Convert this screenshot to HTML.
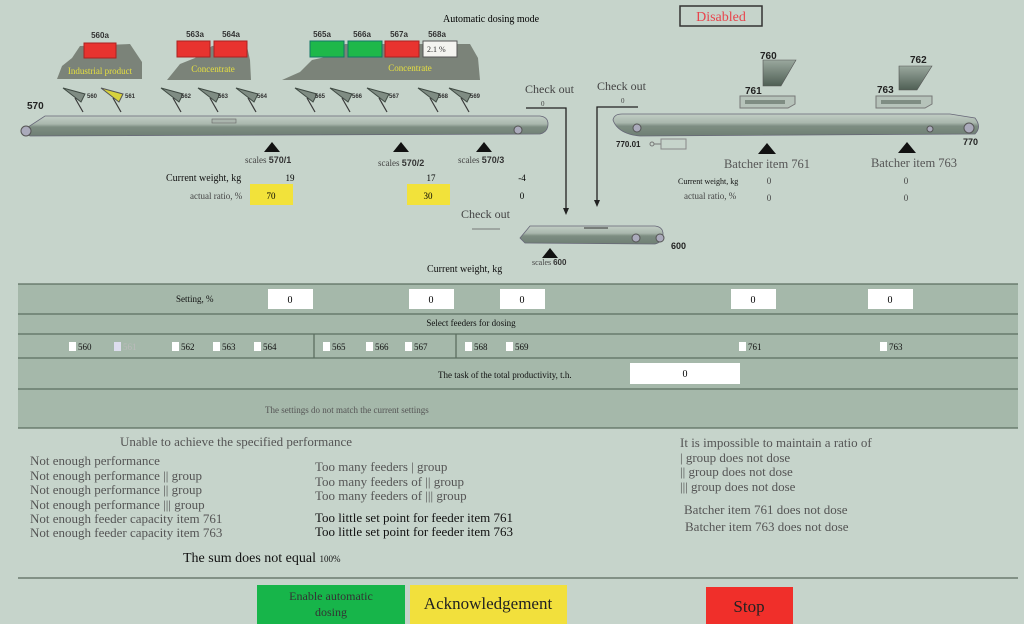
<!DOCTYPE html>
<html><head><meta charset="utf-8"><style>
html,body{margin:0;padding:0;background:#c6d4cb;}
svg{display:block;font-family:"Liberation Serif",serif;}
.s{font-family:"Liberation Sans",sans-serif;font-weight:bold;}
</style></head><body>
<svg width="1024" height="624" viewBox="0 0 1024 624">
<rect width="1024" height="624" fill="#c6d4cb"/>
<defs>
<linearGradient id="belt" x1="0" y1="0" x2="0" y2="1"><stop offset="0" stop-color="#c2cec5"/><stop offset="0.4" stop-color="#a9b7ad"/><stop offset="0.55" stop-color="#7d8d82"/><stop offset="1" stop-color="#6f7f74"/></linearGradient>
<linearGradient id="hop" x1="0" y1="0" x2="0" y2="1"><stop offset="0" stop-color="#9aa89e"/><stop offset="1" stop-color="#4f5f54"/></linearGradient>
<g id="feed"><path d="M0,0 l22,6 l-4,8 z" fill="#7f8c83" stroke="#3f4a43" stroke-width="1"/><line x1="12" y1="10" x2="20" y2="24" stroke="#3a3a3a" stroke-width="1.2"/></g>
</defs>
<text x="443" y="22" font-size="10">Automatic dosing mode</text>
<rect x="680" y="6" width="82" height="20" fill="none" stroke="#333" stroke-width="1.5"/>
<text x="721" y="21" font-size="14" fill="#e8444c" text-anchor="middle">Disabled</text>

<path d="M57,79 L62,66 L72,58 L80,46 L130,44 L142,62 L142,79 Z" fill="#7b8379"/>
<rect x="84" y="43" width="32" height="15" fill="#e8332f" stroke="#a22" />
<text x="100" y="38" font-size="8" class="s" text-anchor="middle" fill="#333">560a</text>
<text x="100" y="74" font-size="9" fill="#e6e040" text-anchor="middle">Industrial product</text>
<path d="M167,80 L180,64 L195,58 L212,46 L246,42 L250,60 L251,80 Z" fill="#7b8379"/>
<rect x="177" y="41" width="33" height="16" fill="#e8332f" stroke="#a22"/>
<rect x="214" y="41" width="33" height="16" fill="#e8332f" stroke="#a22"/>
<text x="195" y="37" font-size="8" class="s" text-anchor="middle" fill="#333">563a</text>
<text x="231" y="37" font-size="8" class="s" text-anchor="middle" fill="#333">564a</text>
<text x="213" y="72" font-size="9" fill="#e6e040" text-anchor="middle">Concentrate</text>
<path d="M282,80 L300,72 L312,60 L330,56 L345,44 L470,44 L478,58 L480,80 Z" fill="#7b8379"/>
<rect x="310" y="41" width="34" height="16" fill="#1eb84a" stroke="#176"/>
<rect x="348" y="41" width="34" height="16" fill="#1eb84a" stroke="#176"/>
<rect x="385" y="41" width="34" height="16" fill="#e8332f" stroke="#a22"/>
<rect x="423" y="41" width="34" height="16" fill="#f4f4f0" stroke="#555"/>
<text x="427" y="52" font-size="8" fill="#333">2.1 %</text>
<text x="322" y="37" font-size="8" class="s" text-anchor="middle" fill="#333">565a</text>
<text x="362" y="37" font-size="8" class="s" text-anchor="middle" fill="#333">566a</text>
<text x="399" y="37" font-size="8" class="s" text-anchor="middle" fill="#333">567a</text>
<text x="437" y="37" font-size="8" class="s" text-anchor="middle" fill="#333">568a</text>
<text x="410" y="71" font-size="9" fill="#e6e040" text-anchor="middle">Concentrate</text>

<g font-size="6" class="s" fill="#333">
<use href="#feed" x="63" y="88"/><text x="87" y="98">560</text>
<g transform="translate(101,88)"><path d="M0,0 l22,6 l-4,8 z" fill="#d8d23c" stroke="#555"/><line x1="12" y1="10" x2="20" y2="24" stroke="#3a3a3a" stroke-width="1.2"/></g><text x="125" y="98">561</text>
<use href="#feed" x="161" y="88"/><text x="181" y="98">562</text>
<use href="#feed" x="198" y="88"/><text x="218" y="98">563</text>
<use href="#feed" x="236" y="88"/><text x="257" y="98">564</text>
<use href="#feed" x="295" y="88"/><text x="315" y="98">565</text>
<use href="#feed" x="330" y="88"/><text x="352" y="98">566</text>
<use href="#feed" x="367" y="88"/><text x="389" y="98">567</text>
<use href="#feed" x="418" y="88"/><text x="438" y="98">568</text>
<use href="#feed" x="449" y="88"/><text x="470" y="98">569</text>
</g>
<text x="27" y="109" font-size="10" class="s" fill="#222">570</text>
<path d="M22,131 L45,116 L540,116 Q548,117 548,124 Q548,132 540,134 L30,136 Z" fill="url(#belt)" stroke="#667" stroke-width="0.8"/>
<circle cx="26" cy="131" r="5" fill="#aab" stroke="#555"/><circle cx="518" cy="130" r="4" fill="#aab" stroke="#555"/>
<rect x="212" y="119" width="24" height="4" fill="#aab5ad" stroke="#666" stroke-width="0.6"/>
<path d="M272,142 l-8,10 h16 z" fill="#111"/><path d="M401,142 l-8,10 h16 z" fill="#111"/><path d="M484,142 l-8,10 h16 z" fill="#111"/>
<text x="245" y="163" font-size="9" fill="#444">scales <tspan class="s" fill="#333">570/1</tspan></text>
<text x="378" y="166" font-size="9" fill="#444">scales <tspan class="s" fill="#333">570/2</tspan></text>
<text x="458" y="163" font-size="9" fill="#444">scales <tspan class="s" fill="#333">570/3</tspan></text>
<text x="166" y="181" font-size="10" fill="#111">Current weight, kg</text>
<text x="290" y="181" font-size="9" text-anchor="middle">19</text>
<text x="431" y="181" font-size="9" text-anchor="middle">17</text>
<text x="522" y="181" font-size="9" text-anchor="middle">-4</text>
<text x="190" y="199" font-size="9" fill="#444">actual ratio, %</text>
<rect x="250" y="184" width="43" height="21" fill="#f2e23a"/>
<rect x="407" y="184" width="43" height="21" fill="#f2e23a"/>
<text x="271" y="199" font-size="9" text-anchor="middle">70</text>
<text x="428" y="199" font-size="9" text-anchor="middle">30</text>
<text x="522" y="199" font-size="9" text-anchor="middle">0</text>

<text x="525" y="93" font-size="12" fill="#444">Check out</text>
<text x="541" y="106" font-size="7" fill="#444">0</text>
<polyline points="526,108 566,108 566,212" fill="none" stroke="#222" stroke-width="1.3"/>
<path d="M566,215 l-3,-7 h6 z" fill="#222"/>
<text x="597" y="90" font-size="12" fill="#444">Check out</text>
<text x="621" y="103" font-size="7" fill="#444">0</text>
<polyline points="638,107 597,107 597,204" fill="none" stroke="#222" stroke-width="1.3"/>
<path d="M597,207 l-3,-7 h6 z" fill="#222"/>
<text x="461" y="218" font-size="12" fill="#444">Check out</text>
<line x1="472" y1="229" x2="500" y2="229" stroke="#777"/>

<path d="M520,238 L530,226 L655,226 Q663,227 663,234 Q663,242 655,244 L525,243 Z" fill="url(#belt)" stroke="#667" stroke-width="0.8"/>
<circle cx="636" cy="238" r="4" fill="#aab" stroke="#555"/><circle cx="660" cy="238" r="4" fill="#aab" stroke="#555"/>
<line x1="584" y1="228" x2="608" y2="228" stroke="#333"/>
<text x="671" y="249" font-size="9" class="s" fill="#222">600</text>
<path d="M550,248 l-8,10 h16 z" fill="#111"/>
<text x="532" y="265" font-size="8" fill="#444">scales <tspan class="s" fill="#333">600</tspan></text>
<text x="427" y="272" font-size="10" fill="#111">Current weight, kg</text>

<path d="M613,120 Q614,114 622,114 L950,114 L975,118 Q982,127 975,134 L640,136 Q618,134 613,120 Z" fill="url(#belt)" stroke="#667" stroke-width="0.8"/>
<circle cx="637" cy="128" r="4" fill="#aab" stroke="#555"/><circle cx="930" cy="129" r="3" fill="#aab" stroke="#555"/><circle cx="969" cy="128" r="5" fill="#aab" stroke="#555"/>
<text x="963" y="145" font-size="9" class="s" fill="#222">770</text>
<text x="616" y="147" font-size="8" class="s" fill="#222">770.01</text>
<circle cx="652" cy="144" r="2" fill="none" stroke="#777"/><line x1="654" y1="144" x2="661" y2="144" stroke="#777"/>
<rect x="661" y="139" width="25" height="10" fill="none" stroke="#888"/>
<polygon points="763,60 796,60 781,86 763,86" fill="url(#hop)" stroke="#555" stroke-width="0.6"/>
<text x="760" y="59" font-size="10" class="s" fill="#222">760</text>
<path d="M740,96 L795,96 L795,104 L788,108 L740,108 Z" fill="#b6c3ba" stroke="#777"/>
<rect x="745" y="100" width="40" height="4" fill="#7f8d83"/>
<text x="745" y="94" font-size="10" class="s" fill="#222">761</text>
<polygon points="899,66 932,66 917,90 899,90" fill="url(#hop)" stroke="#555" stroke-width="0.6"/>
<text x="910" y="63" font-size="10" class="s" fill="#222">762</text>
<path d="M876,96 L932,96 L932,104 L925,108 L876,108 Z" fill="#b6c3ba" stroke="#777"/>
<rect x="881" y="100" width="40" height="4" fill="#7f8d83"/>
<text x="877" y="93" font-size="10" class="s" fill="#222">763</text>
<path d="M767,143 l-9,11 h18 z" fill="#111"/><path d="M907,142 l-9,11 h18 z" fill="#111"/>
<text x="767" y="168" font-size="12.5" fill="#555" text-anchor="middle">Batcher item 761</text>
<text x="914" y="167" font-size="12.5" fill="#555" text-anchor="middle">Batcher item 763</text>
<text x="678" y="184" font-size="8" fill="#111">Current weight, kg</text>
<text x="769" y="184" font-size="9" fill="#444" text-anchor="middle">0</text>
<text x="906" y="184" font-size="9" fill="#444" text-anchor="middle">0</text>
<text x="684" y="199" font-size="9" fill="#444">actual ratio, %</text>
<text x="769" y="201" font-size="9" fill="#444" text-anchor="middle">0</text>
<text x="906" y="201" font-size="9" fill="#444" text-anchor="middle">0</text>

<rect x="18" y="284" width="1000" height="144" fill="#a5b8aa"/>
<g stroke="#5c6e61" stroke-width="1.3">
<line x1="18" y1="284" x2="1018" y2="284"/><line x1="18" y1="314" x2="1018" y2="314"/>
<line x1="18" y1="334" x2="1018" y2="334"/><line x1="18" y1="358" x2="1018" y2="358"/>
<line x1="18" y1="389" x2="1018" y2="389"/><line x1="18" y1="428" x2="1018" y2="428"/>
<line x1="314" y1="334" x2="314" y2="358"/><line x1="456" y1="334" x2="456" y2="358"/>
</g>
<text x="176" y="302" font-size="9" fill="#111">Setting, %</text>
<g font-size="10" text-anchor="middle">
<rect x="268" y="289" width="45" height="20" fill="#fff"/><text x="290" y="303">0</text>
<rect x="409" y="289" width="45" height="20" fill="#fff"/><text x="431" y="303">0</text>
<rect x="500" y="289" width="45" height="20" fill="#fff"/><text x="522" y="303">0</text>
<rect x="731" y="289" width="45" height="20" fill="#fff"/><text x="753" y="303">0</text>
<rect x="868" y="289" width="45" height="20" fill="#fff"/><text x="890" y="303">0</text>
</g>
<text x="471" y="326" font-size="9" fill="#111" text-anchor="middle">Select feeders for dosing</text>
<g font-size="9" fill="#111">
<rect x="69" y="342" width="7" height="9" fill="#fff"/><text x="78" y="350">560</text>
<rect x="114" y="342" width="7" height="9" fill="#dde"/><text x="123" y="350" fill="#bbb">561</text>
<rect x="172" y="342" width="7" height="9" fill="#fff"/><text x="181" y="350">562</text>
<rect x="213" y="342" width="7" height="9" fill="#fff"/><text x="222" y="350">563</text>
<rect x="254" y="342" width="7" height="9" fill="#fff"/><text x="263" y="350">564</text>
<rect x="323" y="342" width="7" height="9" fill="#fff"/><text x="332" y="350">565</text>
<rect x="366" y="342" width="7" height="9" fill="#fff"/><text x="375" y="350">566</text>
<rect x="405" y="342" width="7" height="9" fill="#fff"/><text x="414" y="350">567</text>
<rect x="465" y="342" width="7" height="9" fill="#fff"/><text x="474" y="350">568</text>
<rect x="506" y="342" width="7" height="9" fill="#fff"/><text x="515" y="350">569</text>
<rect x="739" y="342" width="7" height="9" fill="#fff"/><text x="748" y="350">761</text>
<rect x="880" y="342" width="7" height="9" fill="#fff"/><text x="889" y="350">763</text>
</g>
<text x="438" y="378" font-size="9" fill="#111">The task of the total productivity, t.h.</text>
<rect x="630" y="363" width="110" height="21" fill="#fff"/>
<text x="685" y="377" font-size="10" text-anchor="middle">0</text>
<text x="265" y="413" font-size="9" fill="#555">The settings do not match the current settings</text>

<g font-size="13" fill="#555">
<text x="120" y="446">Unable to achieve the specified performance</text>
<text x="30" y="465">Not enough performance</text>
<text x="30" y="480">Not enough performance || group</text>
<text x="30" y="494">Not enough performance || group</text>
<text x="30" y="509">Not enough performance ||| group</text>
<text x="30" y="523">Not enough feeder capacity item 761</text>
<text x="30" y="537">Not enough feeder capacity item 763</text>
<text x="315" y="471">Too many feeders | group</text>
<text x="315" y="486">Too many feeders of || group</text>
<text x="315" y="500">Too many feeders of ||| group</text>
<text x="315" y="522" fill="#111">Too little set point for feeder item 761</text>
<text x="315" y="536" fill="#111">Too little set point for feeder item 763</text>
<text x="680" y="447">It is impossible to maintain a ratio of</text>
<text x="680" y="462">| group does not dose</text>
<text x="680" y="476">|| group does not dose</text>
<text x="680" y="491">||| group does not dose</text>
<text x="684" y="514">Batcher item 761 does not dose</text>
<text x="685" y="531">Batcher item 763 does not dose</text>
</g>
<text x="183" y="562" font-size="14" fill="#111">The sum does not equal <tspan font-size="9">100%</tspan></text>
<line x1="18" y1="578" x2="1018" y2="578" stroke="#6c7b70" stroke-width="1.5"/>

<rect x="257" y="585" width="148" height="39" fill="#17b54a"/>
<text x="331" y="600" font-size="12" fill="#333" text-anchor="middle">Enable automatic</text>
<text x="331" y="616" font-size="12" fill="#333" text-anchor="middle">dosing</text>
<rect x="410" y="585" width="157" height="39" fill="#f2e03c"/>
<text x="488" y="609" font-size="17" fill="#222" text-anchor="middle">Acknowledgement</text>
<rect x="706" y="587" width="87" height="37" fill="#f02f2a"/>
<text x="749" y="612" font-size="17" fill="#222" text-anchor="middle">Stop</text>
</svg>
</body></html>
